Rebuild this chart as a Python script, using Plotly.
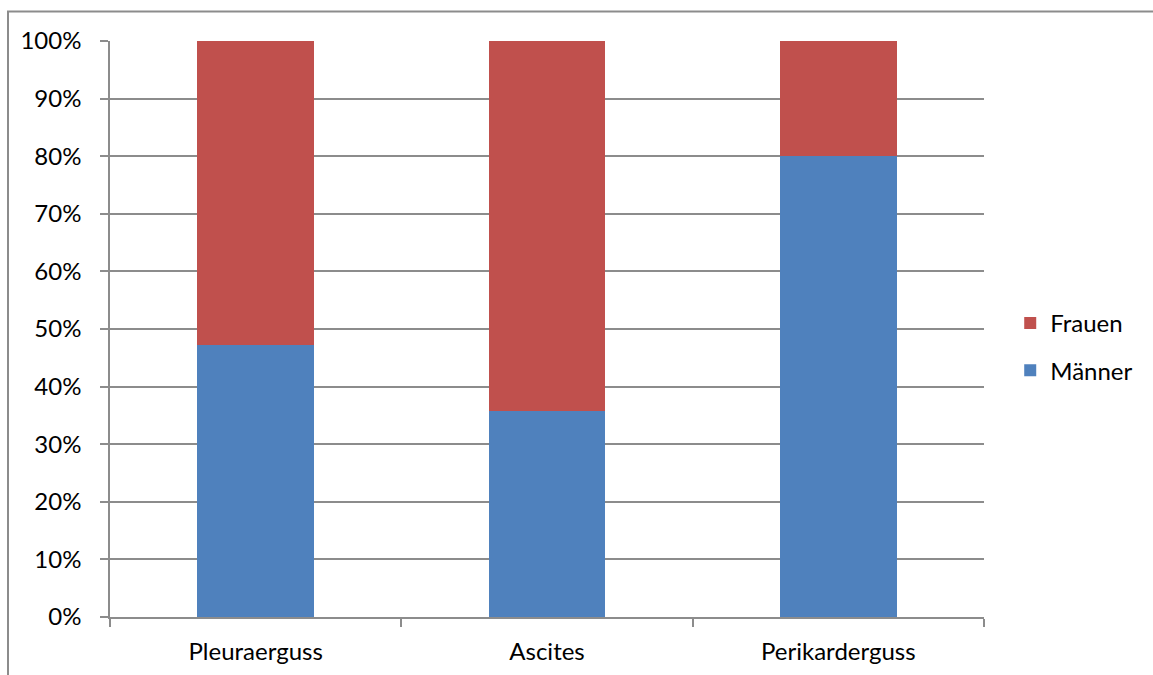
import plotly.graph_objects as go

categories = ["Pleuraerguss", "Ascites", "Perikarderguss"]
maenner = [47.2, 35.7, 80.0]
frauen = [52.8, 64.3, 20.0]
y_ticks = [0, 10, 20, 30, 40, 50, 60, 70, 80, 90, 100]
y_tick_labels = [f"{v}%" for v in y_ticks]

FONT = "Lato"
GRID = "#8c8c8c"

fig = go.Figure()
fig.add_trace(go.Bar(
    name="Männer", x=categories, y=maenner, legendgroup="m", legendrank=2,
    marker=dict(color="#4F81BD", line=dict(width=0)),
))
fig.add_trace(go.Bar(
    name="Frauen", x=categories, y=frauen, legendgroup="f", legendrank=1,
    marker=dict(color="#C0504D", line=dict(width=0)),
))

fig.update_layout(
    barmode="stack",
    bargap=0.6,
    width=1153, height=675,
    margin=dict(l=110, r=169, t=41, b=58, autoexpand=False),
    paper_bgcolor="white",
    plot_bgcolor="white",
    font=dict(family=FONT, size=24, color="black"),
    showlegend=True,
    legend=dict(
        x=1.03, xanchor="left", xref="paper",
        y=0.469, yanchor="middle",
        traceorder="grouped",
        font=dict(family=FONT, size=24),
        itemsizing="constant",
        itemwidth=30,
        tracegroupgap=13,
        bgcolor="rgba(0,0,0,0)",
    ),
    xaxis=dict(
        type="category",
        automargin=False,
        tickson="boundaries",
        ticks="outside", ticklen=8, tickcolor=GRID, tickwidth=1.5,
        showline=True, linecolor=GRID, linewidth=1.5,
        showgrid=False,
        ticklabelstandoff=12,
    ),
    yaxis=dict(
        range=[0, 100],
        automargin=False,
        tickvals=y_ticks, ticktext=y_tick_labels,
        ticks="outside", ticklen=8, tickcolor=GRID, tickwidth=1.5,
        showline=True, linecolor=GRID, linewidth=1.5,
        showgrid=True, gridcolor=GRID, gridwidth=1.5,
        zeroline=False,
        ticklabelstandoff=14,
    ),
)

# outer chart frame (left and top edges visible)
x0 = (8 - 110) / 874
y0 = (617 - 11.5) / 576
fig.add_shape(
    type="path", xref="paper", yref="paper",
    path=f"M {x0},-0.2 L {x0},{y0} L 1.3,{y0}",
    line=dict(color=GRID, width=2),
)

fig.write_html("out.html")
